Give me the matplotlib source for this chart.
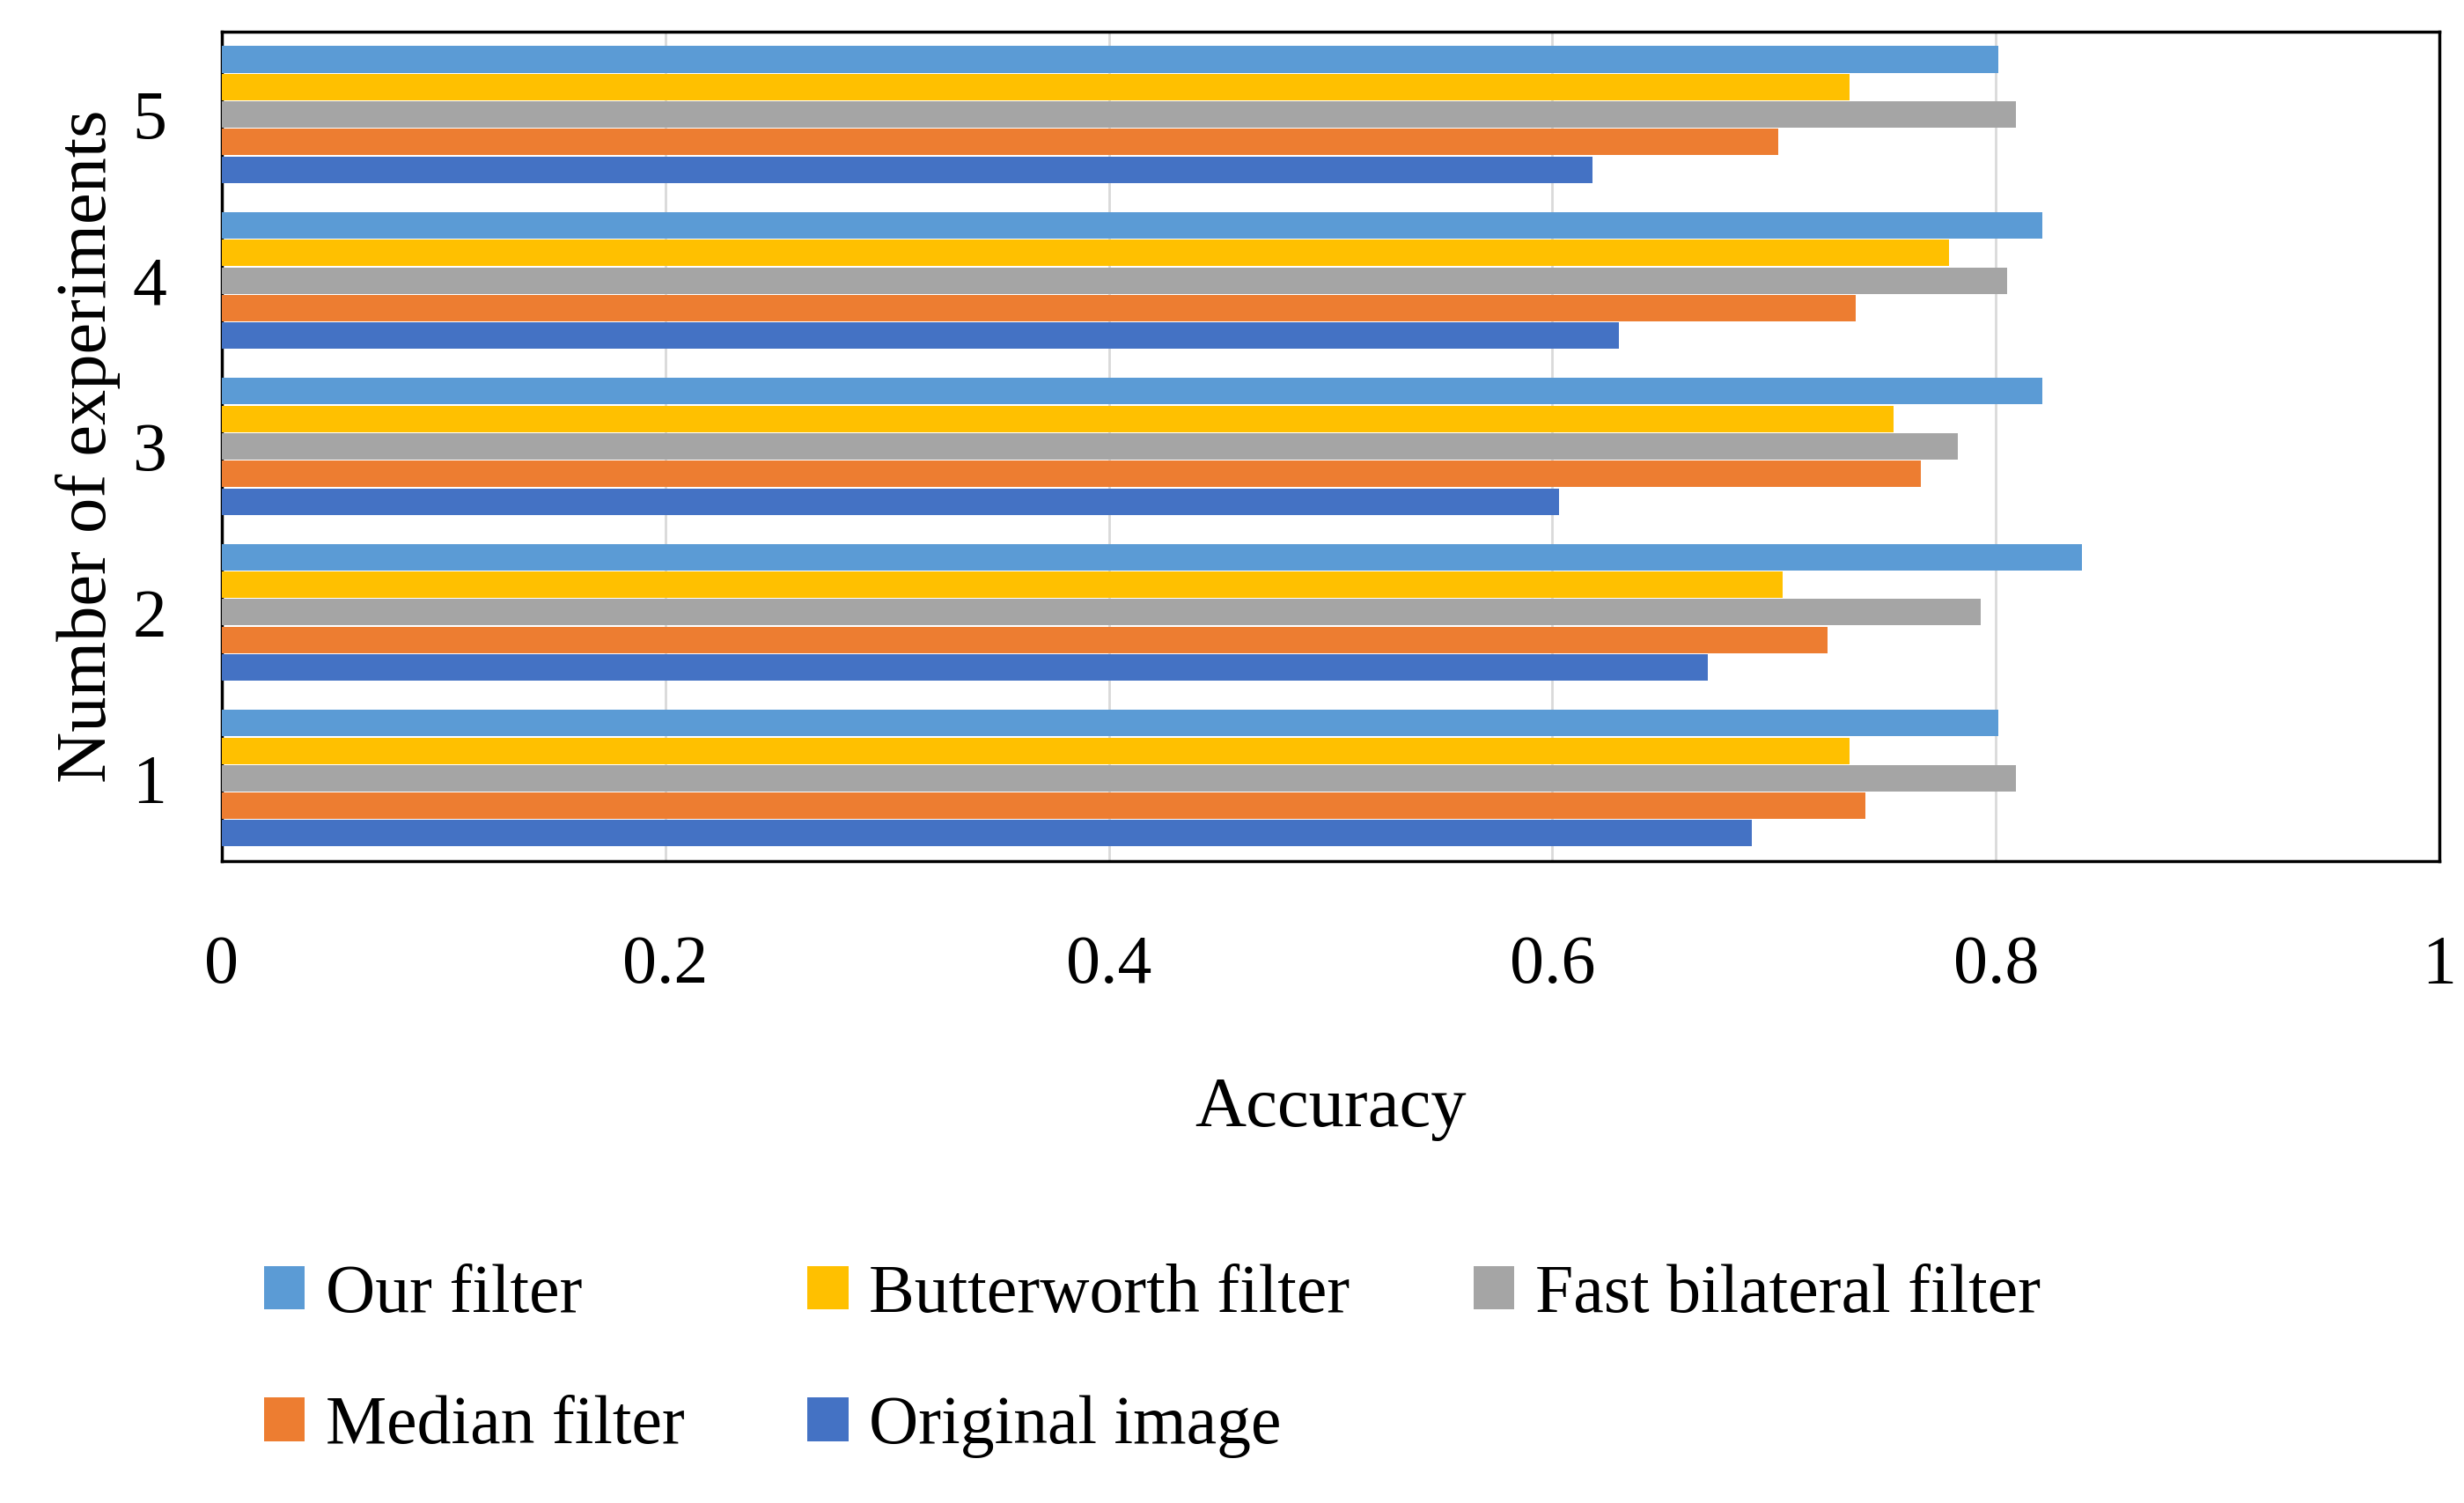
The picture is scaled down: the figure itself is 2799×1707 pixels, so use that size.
import matplotlib.pyplot as plt
import numpy as np

plt.rcParams['font.family'] = ['Liberation Serif', 'DejaVu Serif']

experiments = [1, 2, 3, 4, 5]
series = ["Original image", "Median filter", "Fast bilateral filter",
          "Butterworth filter", "Our filter"]
original = [0.690, 0.670, 0.603, 0.630, 0.618]
median = [0.741, 0.724, 0.766, 0.737, 0.702]
fast_bilateral = [0.809, 0.793, 0.783, 0.805, 0.809]
butterworth = [0.734, 0.704, 0.754, 0.779, 0.734]
our_filter = [0.801, 0.839, 0.821, 0.821, 0.801]
colors = ["#4472C4", "#ED7D31", "#A5A5A5", "#FFC000", "#5B9BD5"]

values = [original, median, fast_bilateral, butterworth, our_filter]

fig = plt.figure(figsize=(27.99, 17.07), dpi=100)
ax = fig.add_axes([0.09, 0.427, 0.9, 0.552])

y = np.arange(len(experiments)) + 1
h = 0.166
bars = {}
for i, (name, vals, c) in enumerate(zip(series, values, colors)):
    bars[name] = ax.barh(y + (i - 2) * h, vals, height=h * 0.96, color=c,
                         label=name, zorder=3)

ax.set_xlim(0, 1)
ax.set_ylim(0.5, 5.5)
ax.set_xticks(np.arange(0, 1.01, 0.2))
ax.set_xticklabels(["0", "0.2", "0.4", "0.6", "0.8", "1"])
ax.set_yticks(y)
ax.set_yticklabels([str(e) for e in experiments])
ax.tick_params(axis="x", length=0, labelsize=56, pad=60)
ax.tick_params(axis="y", length=0, labelsize=56, pad=45)
ax.xaxis.grid(True, color="#D9D9D9", linewidth=2, zorder=0)
for s in ax.spines.values():
    s.set_linewidth(2.5)
    s.set_color("black")

ax.set_xlabel("Accuracy", fontsize=58, labelpad=65)
ax.set_ylabel("Number of experiments", fontsize=58, labelpad=10)

order = ["Our filter", "Median filter", "Butterworth filter",
         "Original image", "Fast bilateral filter"]
fig.legend([bars[n] for n in order], order, ncol=3, loc="upper left",
           bbox_to_anchor=(0.082, 0.2), frameon=False, fontsize=56,
           handlelength=0.6, handleheight=0.6, handletextpad=0.3,
           columnspacing=1.8, labelspacing=1.0)

fig.savefig("out.png", dpi=100)
